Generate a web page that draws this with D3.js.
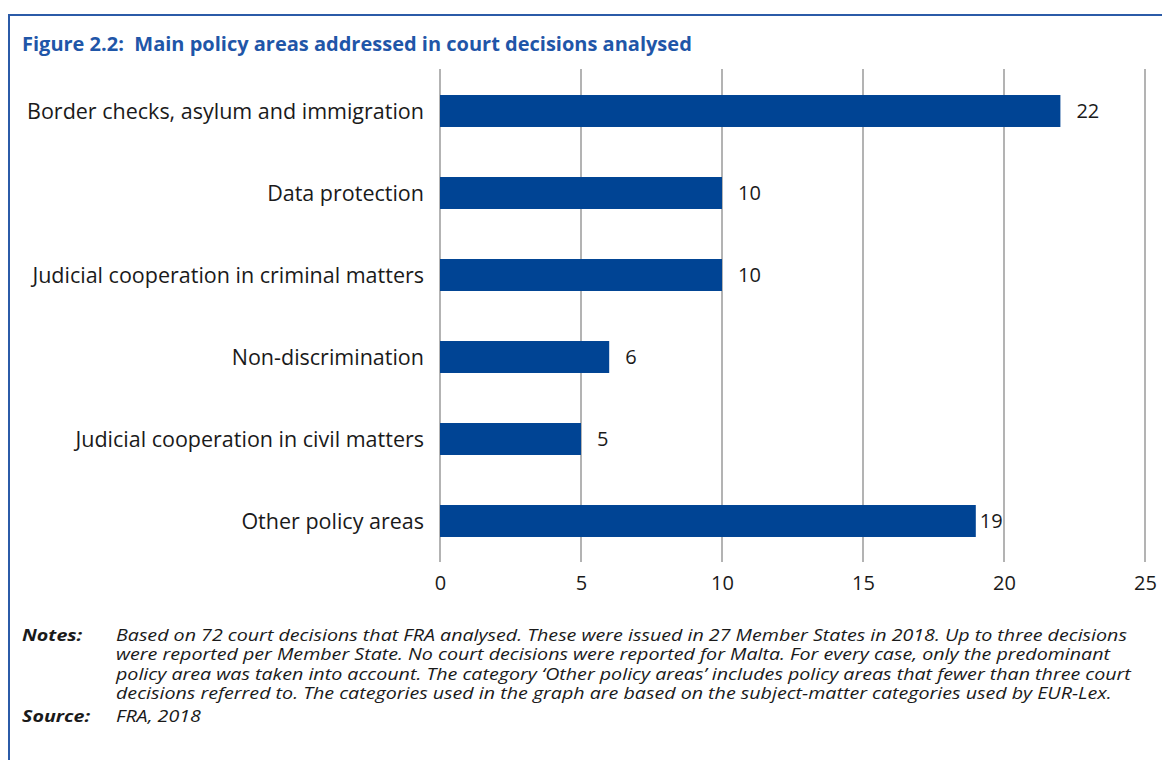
<!DOCTYPE html>
<html>
<head>
<meta charset="utf-8">
<script src="https://cdn.jsdelivr.net/npm/d3@7"></script>
<style>
  html, body { margin: 0; padding: 0; background: #fff; }
  svg { display: block; }
  text { font-family: "Open Sans", sans-serif; }
</style>
</head>
<body>
<svg id="chart"></svg>
<script>
// data
const categories = [
  "Border checks, asylum and immigration",
  "Data protection",
  "Judicial cooperation in criminal matters",
  "Non-discrimination",
  "Judicial cooperation in civil matters",
  "Other policy areas"
];
const counts = [22, 10, 10, 6, 5, 19];
const xTicks = [0, 5, 10, 15, 20, 25];
const noteLines = [
  "Based on 72 court decisions that FRA analysed. These were issued in 27 Member States in 2018. Up to three decisions",
  "were reported per Member State. No court decisions were reported for Malta. For every case, only the predominant",
  "policy area was taken into account. The category \u2018Other policy areas\u2019 includes policy areas that fewer than three court",
  "decisions referred to. The categories used in the graph are based on the subject-matter categories used by EUR-Lex."
];

const width = 1162, height = 760;
const svg = d3.select("#chart").attr("width", width).attr("height", height);

const blue = "#004494";
const frame = "#2b5ba8";

// frame (top + left)
svg.append("line").attr("x1", 8).attr("x2", width).attr("y1", 15).attr("y2", 15)
  .attr("stroke", frame).attr("stroke-width", 2);
svg.append("line").attr("x1", 9).attr("x2", 9).attr("y1", 14).attr("y2", height)
  .attr("stroke", frame).attr("stroke-width", 2);

svg.append("text")
  .attr("x", 22).attr("y", 51)
  .attr("fill", "#1f56a8")
  .attr("font-weight", "bold")
  .attr("font-size", 20)
  .attr("xml:space", "preserve")
  .text("Figure 2.2:  Main policy areas addressed in court decisions analysed");

const x = d3.scaleLinear().domain([0, 25]).range([440, 1145]);
const y = d3.scaleBand().domain(categories).range([70, 562])
  .paddingInner(0.61).paddingOuter(0.305);

// gridlines
svg.append("g").selectAll("line").data(xTicks).join("line")
  .attr("x1", d => x(d)).attr("x2", d => x(d))
  .attr("y1", 69).attr("y2", 562)
  .attr("stroke", "#b3b3b3").attr("stroke-width", 2);

// x tick labels
const xAxis = svg.append("g").attr("transform", "translate(0,562)")
  .call(d3.axisBottom(x).tickValues(xTicks).tickSize(0).tickPadding(14));
xAxis.select(".domain").remove();
xAxis.selectAll("text").attr("font-size", 20).attr("fill", "#1a1a1a")
  .attr("font-family", "'Open Sans', sans-serif");

const rows = categories.map((c, i) => ({ cat: c, v: counts[i] }));

// bars
svg.append("g").selectAll("rect").data(rows).join("rect")
  .attr("x", x(0))
  .attr("y", d => y(d.cat))
  .attr("width", d => x(d.v) - x(0))
  .attr("height", y.bandwidth())
  .attr("fill", blue);

// category labels
svg.append("g").selectAll("text").data(rows).join("text")
  .attr("x", 424)
  .attr("y", d => y(d.cat) + y.bandwidth() / 2)
  .attr("dy", "0.35em")
  .attr("text-anchor", "end")
  .attr("font-size", 21.5)
  .attr("fill", "#1a1a1a")
  .text(d => d.cat);

// value labels; pull in close to the bar when it would cross the next gridline
svg.append("g").selectAll("text").data(rows).join("text")
  .attr("y", d => y(d.cat) + y.bandwidth() / 2)
  .attr("dy", "0.35em")
  .attr("font-size", 20)
  .attr("fill", "#1a1a1a")
  .text(d => d.v)
  .attr("x", function(d) {
    const w = this.getComputedTextLength();
    const next = xTicks.find(t => t > d.v);
    let px = x(d.v) + 16;
    if (next !== undefined && px + w > x(next)) px = x(d.v) + 4;
    return px;
  });

// notes - the original uses a condensed italic, so stretch a smaller font sideways
const notes = svg.append("g").attr("font-style", "italic").attr("font-size", 15.5)
  .attr("fill", "#1a1a1a");
const noteBody = notes.append("g");
noteBody.selectAll("text").data(noteLines).join("text")
  .attr("x", 0)
  .attr("y", (d, i) => 641 + i * 19.5)
  .text(d => d);
const firstW = noteBody.select("text").node().getComputedTextLength();
const sx = 1012 / firstW;
noteBody.attr("transform", `translate(116,0) scale(${sx},1)`);

const src = notes.append("g").attr("transform", `translate(116,0) scale(${sx},1)`);
src.append("text").attr("x", 0).attr("y", 722).text("FRA, 2018");

const lbl = notes.append("g").attr("transform", `translate(22,0) scale(${sx},1)`)
  .attr("font-weight", "bold");
lbl.append("text").attr("y", 641).text("Notes:");
lbl.append("text").attr("y", 722).text("Source:");
</script>
</body>
</html>
